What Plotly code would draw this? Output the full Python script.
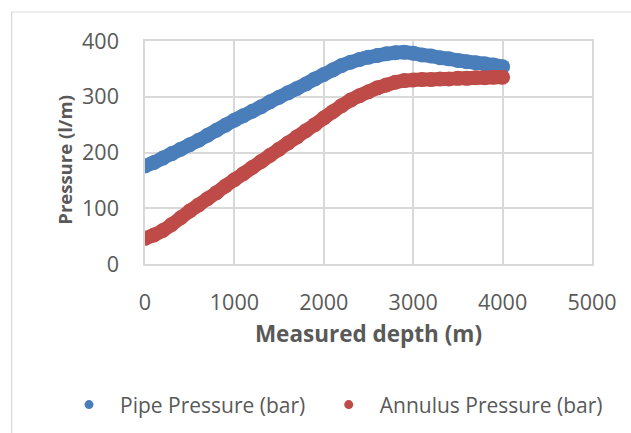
import plotly.graph_objects as go

depth = [0, 100, 200, 300, 400, 500, 600, 700, 800, 900, 1000,
         1100, 1200, 1300, 1400, 1500, 1600, 1700, 1800, 1900, 2000,
         2100, 2200, 2300, 2400, 2500, 2600, 2700, 2800, 2900, 3000,
         3100, 3200, 3300, 3400, 3500, 3600, 3700, 3800, 3900, 4000]

pipe_pressure = [176, 182, 190, 198, 206, 214, 222, 231, 240, 249, 258,
                 266, 274, 282, 291, 299, 307, 315, 323, 332, 340,
                 348, 356, 362, 367, 371, 374, 377, 379, 380, 378,
                 375, 373, 370, 368, 365, 363, 361, 359, 357, 354]

annulus_pressure = [46, 52, 60, 71, 83, 95, 106, 117, 128, 140, 151,
                    162, 173, 184, 195, 206, 217, 228, 239, 250, 262,
                    273, 284, 294, 302, 309, 316, 321, 326, 329, 330,
                    331, 331, 332, 332, 333, 333, 334, 334, 335, 335]

series_names = ["Pipe Pressure (bar)", "Annulus Pressure (bar)"]
colors = ["#4A7EBB", "#BE4B48"]

FONT = "Open Sans"
GRID = "#D9D9D9"
TXT = "#595959"

fig = go.Figure()
for name, ys, col in zip(series_names, [pipe_pressure, annulus_pressure], colors):
    fig.add_trace(go.Scatter(
        x=depth, y=ys, mode="lines+markers", showlegend=False,
        line=dict(color=col, width=14, shape="spline"),
        marker=dict(color=col, size=15),
        hoverinfo="skip",
    ))
for name, col, lg in zip(series_names, colors, ["legend", "legend2"]):
    fig.add_trace(go.Scatter(
        x=[None], y=[None], mode="markers", name=name, legend=lg,
        marker=dict(color=col, size=9),
    ))

legend_common = dict(
    orientation="h", xanchor="left", y=-0.632, yanchor="middle",
    font=dict(family=FONT, size=21, color=TXT),
    itemwidth=52, bgcolor="rgba(0,0,0,0)",
)

fig.update_layout(
    width=631, height=433,
    margin=dict(l=144.5, r=39, t=41, b=169, autoexpand=False),
    paper_bgcolor="white", plot_bgcolor="white",
    font=dict(family=FONT, color=TXT, size=21),
    showlegend=True,
    legend=dict(x=-0.1946, **legend_common),
    legend2=dict(x=0.3864, **legend_common),
    shapes=[dict(
        type="rect", xref="paper", yref="paper",
        x0=-0.2983, x1=2, y0=1.130, y1=-2,
        line=dict(color=GRID, width=1.2), fillcolor="rgba(0,0,0,0)",
        layer="below",
    )],
    annotations=[dict(
        text="<b>Pressure (l/m)</b>", textangle=-90,
        xref="paper", yref="paper", x=-0.182, y=0.466,
        xanchor="center", yanchor="middle", showarrow=False,
        font=dict(family=FONT, size=18.5, color=TXT),
    )],
)

fig.update_xaxes(
    range=[0, 5000], tickvals=[0, 1000, 2000, 3000, 4000, 5000],
    showgrid=True, gridcolor=GRID, gridwidth=1.5,
    showline=True, linecolor=GRID, linewidth=1.5, mirror=True,
    zeroline=False, ticks="", ticklabelstandoff=18,
    tickfont=dict(family=FONT, size=21.5, color=TXT),
    title=dict(text="<b>Measured depth (m)</b>", standoff=12,
               font=dict(family=FONT, size=22.5, color=TXT)),
)
fig.update_yaxes(
    range=[0, 400], tickvals=[0, 100, 200, 300, 400],
    showgrid=True, gridcolor=GRID, gridwidth=1.5,
    showline=True, linecolor=GRID, linewidth=1.5, mirror=True,
    zeroline=False, ticks="", ticklabelstandoff=20,
    tickfont=dict(family=FONT, size=21.5, color=TXT),
)

fig.write_html("out.html")
